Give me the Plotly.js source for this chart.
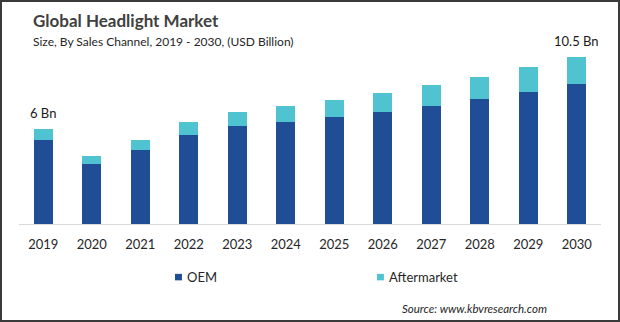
<!DOCTYPE html>
<html>
<head>
<meta charset="utf-8">
<script src="https://cdn.plot.ly/plotly-3.0.1.min.js"></script>
<style>
  html, body { margin: 0; padding: 0; background: #fff; }
  #wrap { position: relative; width: 620px; height: 322px; }
  #chart { width: 620px; height: 322px; }
  #frame { position: absolute; left: 0; top: 0; width: 620px; height: 322px; box-sizing: border-box; border: 2px solid #3a3a3a; pointer-events: none; }
</style>
</head>
<body>
<div id="wrap"><div id="chart"></div><div id="frame"></div></div>
<script>
const years = ["2019","2020","2021","2022","2023","2024","2025","2026","2027","2028","2029","2030"];
const oem = [5.30, 3.78, 4.66, 5.60, 6.17, 6.42, 6.73, 7.05, 7.42, 7.86, 8.30, 8.82];
const aftermarket = [0.70, 0.50, 0.64, 0.82, 0.88, 1.00, 1.07, 1.21, 1.32, 1.39, 1.57, 1.68];
const seriesNames = ["OEM", "Aftermarket"];
const labelIdx = [0, 11];
const labelText = ["6 Bn", "10.5 Bn"];

const FONT = "Lato, 'Open Sans', sans-serif";
const C_OEM = "#1f4e96";
const C_AFT = "#4fc3cf";

const traces = [
  { type: "bar", name: seriesNames[0], x: years, y: oem, marker: { color: C_OEM }, width: 0.4, hoverinfo: "skip" },
  { type: "bar", name: seriesNames[1], x: years, y: aftermarket, marker: { color: C_AFT }, width: 0.4, hoverinfo: "skip" }
];

const annotations = [
  { xref: "paper", yref: "paper", x: 0.0206, y: 1.165, xanchor: "left", yanchor: "middle", showarrow: false,
    text: "<b>Global Headlight Market</b>", font: { family: FONT, size: 17, color: "#404040" } },
  { xref: "paper", yref: "paper", x: 0.0206, y: 1.04, xanchor: "left", yanchor: "middle", showarrow: false,
    text: "Size, By Sales Channel, 2019 - 2030, (USD Billion)", font: { family: FONT, size: 12, color: "#262626" } }
];
labelIdx.forEach((i, k) => {
  annotations.push({ x: i, y: oem[i] + aftermarket[i], xref: "x", yref: "y", yanchor: "bottom",
    yshift: 6, showarrow: false, text: labelText[k], font: { family: FONT, size: 13, color: "#1a1a1a" } });
});

// custom legend
const legendX = [0.268, 0.615];
const shapes = [];
[C_OEM, C_AFT].forEach((c, k) => {
  shapes.push({ type: "rect", xref: "paper", yref: "paper", x0: legendX[k], x1: legendX[k] + 0.012, y0: -0.322, y1: -0.285,
    fillcolor: c, line: { width: 0 } });
  annotations.push({ xref: "paper", yref: "paper", x: legendX[k] + 0.018, y: -0.303, xanchor: "left", yanchor: "middle",
    showarrow: false, text: seriesNames[k], font: { family: FONT, size: 13, color: "#262626" } });
});
annotations.push({ xref: "paper", yref: "paper", x: 0.91, y: -0.48, xanchor: "right", yanchor: "middle", showarrow: false,
  text: "<i>Source: www.kbvresearch.com</i>", font: { family: FONT, size: 11.5, color: "#262626" } });

const layout = {
  width: 620, height: 322,
  margin: { l: 19, r: 19, t: 49, b: 98, pad: 0 },
  paper_bgcolor: "#ffffff", plot_bgcolor: "#ffffff",
  barmode: "stack",
  showlegend: false,
  xaxis: { type: "category", range: [-0.5, 11.5], showline: true, linecolor: "#d9d9d9", linewidth: 1, ticks: "", showgrid: false,
    tickfont: { family: FONT, size: 13, color: "#262626" }, ticklabelstandoff: 8, fixedrange: true },
  yaxis: { range: [0, 11], visible: false, showgrid: false, zeroline: false, fixedrange: true },
  annotations: annotations,
  shapes: shapes
};

Plotly.newPlot("chart", traces, layout, { displayModeBar: false, staticPlot: true });
</script>
</body>
</html>
